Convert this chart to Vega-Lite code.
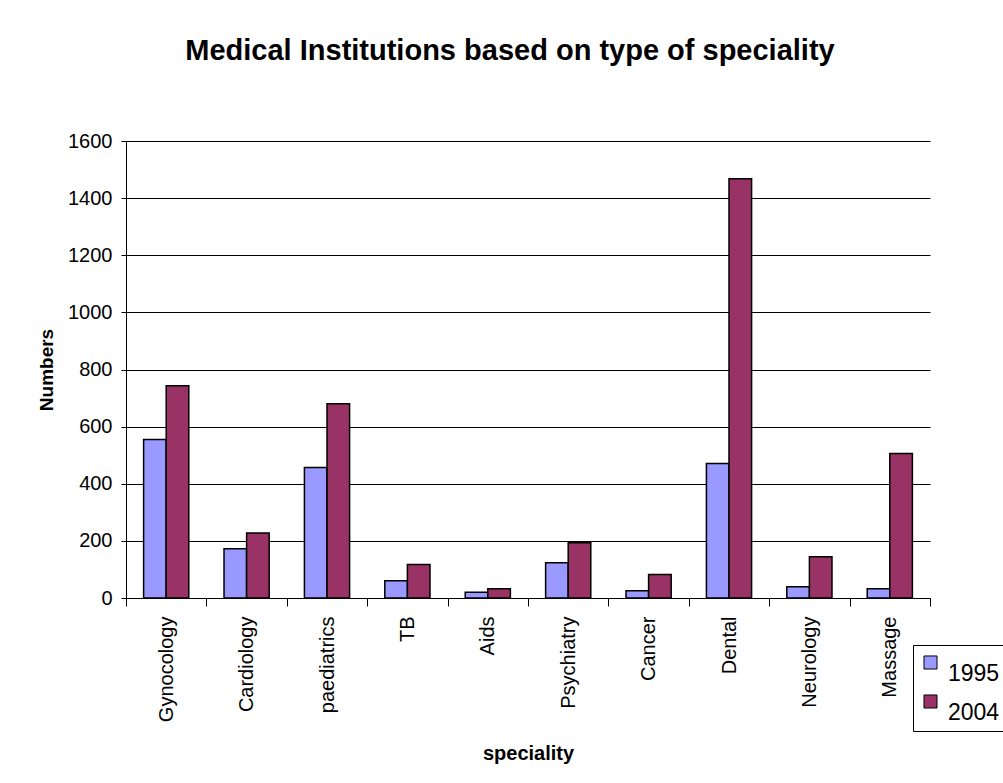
{
  "$schema": "https://vega.github.io/schema/vega-lite/v6.json",
  "autosize": "none",
  "width": 804,
  "height": 457,
  "padding": {"left": 126, "top": 141, "right": 73, "bottom": 185},
  "background": "white",
  "config": {
    "view": {"stroke": null},
    "font": "Liberation Sans"
  },
  "title": {
    "text": "Medical Institutions based on type of speciality",
    "fontSize": 29,
    "fontWeight": "bold",
    "font": "Liberation Sans",
    "color": "black",
    "anchor": "middle",
    "dx": -18,
    "offset": 65
  },
  "data": {
    "values": [
      {"speciality": "Gynocology", "year": "1995", "value": 555},
      {"speciality": "Gynocology", "year": "2004", "value": 743},
      {"speciality": "Cardiology", "year": "1995", "value": 172},
      {"speciality": "Cardiology", "year": "2004", "value": 228},
      {"speciality": "paediatrics", "year": "1995", "value": 457},
      {"speciality": "paediatrics", "year": "2004", "value": 680},
      {"speciality": "TB", "year": "1995", "value": 60},
      {"speciality": "TB", "year": "2004", "value": 117},
      {"speciality": "Aids", "year": "1995", "value": 20},
      {"speciality": "Aids", "year": "2004", "value": 32},
      {"speciality": "Psychiatry", "year": "1995", "value": 123},
      {"speciality": "Psychiatry", "year": "2004", "value": 193},
      {"speciality": "Cancer", "year": "1995", "value": 25},
      {"speciality": "Cancer", "year": "2004", "value": 82},
      {"speciality": "Dental", "year": "1995", "value": 471},
      {"speciality": "Dental", "year": "2004", "value": 1468},
      {"speciality": "Neurology", "year": "1995", "value": 39},
      {"speciality": "Neurology", "year": "2004", "value": 144},
      {"speciality": "Massage", "year": "1995", "value": 32},
      {"speciality": "Massage", "year": "2004", "value": 506}
    ]
  },
  "mark": {"type": "bar", "stroke": "black", "strokeWidth": 1.5},
  "encoding": {
    "x": {
      "field": "speciality",
      "type": "nominal",
      "sort": null,
      "scale": {"paddingInner": 0, "paddingOuter": 0},
      "axis": {
        "title": "speciality",
        "titleFontSize": 20,
        "titleFontWeight": "bold",
        "titleColor": "black",
        "titlePadding": 22,
        "labelAngle": -90,
        "labelFontSize": 20,
        "labelColor": "black",
        "labelPadding": 10,
        "tickBand": "extent",
        "tickSize": 8,
        "tickColor": "black",
        "domainColor": "black",
        "domainWidth": 1,
        "grid": false
      }
    },
    "xOffset": {
      "field": "year",
      "type": "nominal",
      "scale": {"paddingInner": 0, "paddingOuter": 0.78}
    },
    "y": {
      "field": "value",
      "type": "quantitative",
      "scale": {"domain": [0, 1600], "nice": false},
      "axis": {
        "title": "Numbers",
        "titleFontSize": 19,
        "titleFontWeight": "bold",
        "titleColor": "black",
        "titlePadding": 11,
        "values": [0, 200, 400, 600, 800, 1000, 1200, 1400, 1600],
        "format": "d",
        "labelFontSize": 20,
        "labelColor": "black",
        "labelPadding": 9,
        "tickSize": 5,
        "tickColor": "black",
        "domainColor": "black",
        "gridColor": "black",
        "gridWidth": 1,
        "gridOpacity": 1
      }
    },
    "fill": {
      "field": "year",
      "type": "nominal",
      "scale": {"domain": ["1995", "2004"], "range": ["#9999FF", "#993366"]},
      "legend": {
        "title": null,
        "orient": "none",
        "legendX": 787,
        "legendY": 504,
        "strokeColor": "black",
        "fillColor": "white",
        "padding": 6,
        "rowPadding": 4,
        "labelFontSize": 23,
        "labelColor": "black",
        "labelBaseline": "top",
        "labelOffset": 6,
        "symbolType": "square",
        "symbolSize": 170,
        "symbolStrokeColor": "black",
        "symbolStrokeWidth": 1
      }
    }
  }
}
